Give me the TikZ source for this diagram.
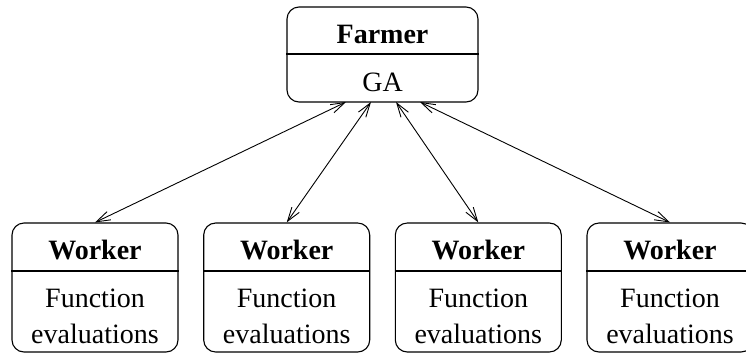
\documentclass[tikz,border=0pt]{standalone}
\usepackage{fontspec}
\setmainfont{Liberation Serif}
\usetikzlibrary{arrows.meta}
\tikzset{
  box/.style={draw, line width=1.1pt, rounded corners=12pt, inner sep=0pt},
  lbl/.style={anchor=base, inner sep=0pt, font=\fontsize{28}{36}\selectfont},
  blbl/.style={lbl, font=\fontsize{28}{36}\selectfont\bfseries},
  link/.style={line width=0.9pt, {Straight Barb[length=14pt,width=9pt]}-{Straight Barb[length=14pt,width=9pt]}}
}
\begin{document}
\begin{tikzpicture}[x=1pt,y=-1pt]
\useasboundingbox (0,0) rectangle (746,354);
% farmer
\node[box, minimum width=191pt, minimum height=95pt] (farmer) at (382.5,54.5) {};
\draw[line width=1.1pt] (farmer.west |- 0,54) -- (farmer.east |- 0,54);
\node[blbl] (farmerT) at (382.5,43) {Farmer};
\node[lbl] (ga) at (382.5,91) {GA};
\coordinate (f1) at (346,102);
\coordinate (f2) at (371,102);
\coordinate (f3) at (396,102);
\coordinate (f4) at (420,102);
% workers
\foreach \i/\x in {1/95,2/286.7,3/478.3,4/670}{
  \node[box, minimum width=166pt, minimum height=129pt] (w\i) at (\x,287.5) {};
  \draw[line width=1.1pt] (w\i.west |- 0,271) -- (w\i.east |- 0,271);
  \node[blbl] (wt\i) at (\x,259) {Worker};
  \node[lbl] (wf\i) at (\x,307) {Function};
  \node[lbl] (we\i) at (\x,343) {evaluations};
}
\draw[link] (w1.north) -- (f1);
\draw[link] (w2.north) -- (f2);
\draw[link] (w3.north) -- (f3);
\draw[link] (w4.north) -- (f4);
\end{tikzpicture}
\end{document}
